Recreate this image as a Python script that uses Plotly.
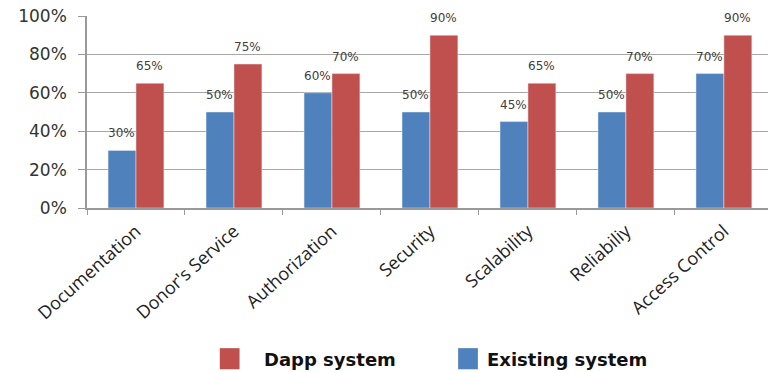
import plotly.graph_objects as go

categories = ["Documentation", "Donor's Service", "Authorization", "Security",
              "Scalability", "Reliabiliy", "Access Control"]
existing = [0.30, 0.50, 0.60, 0.50, 0.45, 0.50, 0.70]
dapp = [0.65, 0.75, 0.70, 0.90, 0.65, 0.70, 0.90]
y_ticks = [0, 0.2, 0.4, 0.6, 0.8, 1.0]
y_tick_labels = ["0%", "20%", "40%", "60%", "80%", "100%"]

BLUE = "#4F81BD"
RED = "#C0504D"
FONT = "DejaVu Sans"

fig = go.Figure()
fig.add_trace(go.Bar(x=categories, y=existing, name="Existing system",
                     marker_color=BLUE, showlegend=False))
fig.add_trace(go.Bar(x=categories, y=dapp, name="Dapp system",
                     marker_color=RED, showlegend=False))

annotations = []
for c, e, d in zip(categories, existing, dapp):
    for v, sh in ((e, -14), (d, 14)):
        annotations.append(dict(x=c, y=v, text=f"{round(v*100)}%", showarrow=False,
                                xshift=sh, yshift=17,
                                font=dict(family=FONT, size=12, color="#404040")))

# legend drawn manually (larger swatches), paper coords relative to plot area
legend_items = [("Dapp system", RED, 0.195, 0.257), ("Existing system", BLUE, 0.545, 0.585)]
shapes = []
for name, col, x0, xt in legend_items:
    shapes.append(dict(type="rect", xref="paper", yref="paper",
                       x0=x0, x1=x0 + 0.029, y0=-0.84, y1=-0.73,
                       fillcolor=col, line=dict(width=0)))
    annotations.append(dict(xref="paper", yref="paper", x=xt, y=-0.79,
                            xanchor="left", yanchor="middle", showarrow=False,
                            text=f"<b>{name}</b>",
                            font=dict(family=FONT, size=18, color="#111111")))

fig.update_layout(
    width=768, height=373,
    margin=dict(l=87, r=0, t=16, b=165),
    barmode="group", bargap=0.43, bargroupgap=0,
    plot_bgcolor="white", paper_bgcolor="white",
    annotations=annotations, shapes=shapes,
    xaxis=dict(range=[-0.5, 6.45], tickangle=-42,
               tickfont=dict(family="Open Sans", size=18, color="#222222"),
               showline=True, linecolor="#999999", linewidth=1.5,
               ticks="outside", ticklen=5, tickcolor="#999999",
               tickson="boundaries", showgrid=False, ticklabelstandoff=4),
    yaxis=dict(range=[0, 1], tickvals=y_ticks, ticktext=y_tick_labels,
               tickfont=dict(family=FONT, size=17, color="#333333"),
               showline=True, linecolor="#999999", linewidth=1.5,
               ticks="outside", ticklen=7, tickcolor="#999999",
               gridcolor="#A6A6A6", gridwidth=1.2, zeroline=False,
               ticklabelstandoff=8),
)

fig.write_html("out.html")
